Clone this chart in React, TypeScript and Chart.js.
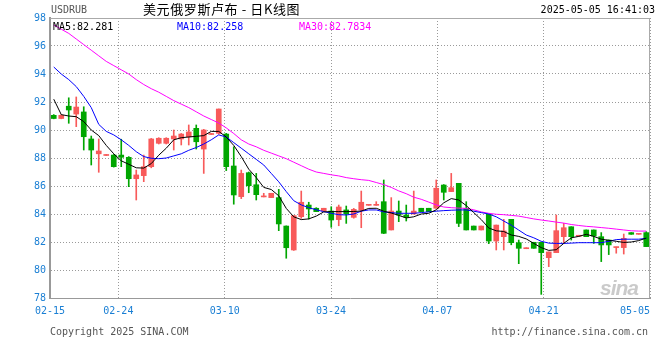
import { useEffect, useRef } from 'react';
import { Chart, registerables } from 'chart.js';

Chart.register(...registerables);

// ---- categories (one slot per day) ----
const DAYS = [
  '02-15','02-16','02-17','02-18','02-19','02-20','02-21','02-22','02-23','02-24','02-25','02-26','02-27','02-28',
  '03-01','03-02','03-03','03-04','03-05','03-06','03-07','03-08','03-09','03-10','03-11','03-12','03-13','03-14',
  '03-15','03-16','03-17','03-18','03-19','03-20','03-21','03-22','03-23','03-24','03-25','03-26','03-27','03-28',
  '03-29','03-30','03-31','04-01','04-02','04-03','04-04','04-05','04-06','04-07','04-08','04-09','04-10','04-11',
  '04-12','04-13','04-14','04-15','04-16','04-17','04-18','04-19','04-20','04-21','04-22','04-23','04-24','04-25',
  '04-26','04-27','04-28','04-29','04-30','05-01','05-02','05-03','05-04','05-05',
];

// ---- tick labels ----
const DATE_TICKS = ['02-15', '02-24', '03-10', '03-24', '04-07', '04-21', '05-05'];
const Y_MIN = 78;
const Y_MAX = 98;
const Y_STEP = 2;

// ---- OHLC ----
const OPEN = [
  91.05, 90.82, 91.7, 91.14, 91.29, 89.36, 88.3, 88.18, 88.21, 88.21,
  88.05, 86.52, 86.74, 87.38, 89.05, 89.05, 89.36, 89.36, 89.52, 90.12,
  88.64, 89.68, 89.76, 89.71, 87.43, 85.24, 86.95, 86.09, 85.22, 85.17,
  85.17, 83.14, 81.43, 83.81, 84.64, 84.41, 84.21, 84.21, 83.6, 84.29,
  83.76, 84.29, 84.62, 84.62, 84.88, 82.86, 84.21, 83.93, 84.0, 84.41,
  84.41, 84.41, 86.07, 85.6, 86.19, 84.41, 83.14, 82.86, 83.98, 82.07,
  82.38, 83.62, 81.95, 81.52, 81.98, 81.98, 80.88, 81.24, 82.38, 83.09,
  82.41, 82.86, 82.86, 82.38, 82.14, 81.6, 81.6, 82.67, 82.55, 82.67,
];
const HIGH = [
  91.1, 91.1, 92.3, 92.36, 91.66, 89.57, 89.36, 88.22, 88.25, 89.34,
  88.1, 87.14, 88.21, 89.4, 89.45, 89.45, 90.0, 89.75, 90.36, 90.36,
  90.05, 89.74, 91.5, 89.76, 88.8, 87.14, 87.0, 86.9, 85.48, 85.48,
  85.76, 83.15, 83.9, 85.64, 84.84, 84.45, 84.41, 84.52, 84.64, 84.57,
  84.4, 85.64, 84.66, 84.88, 86.43, 85.17, 84.93, 84.64, 85.64, 84.41,
  84.41, 86.43, 86.1, 86.9, 86.19, 84.88, 83.14, 83.14, 83.98, 83.21,
  83.62, 83.62, 82.14, 81.58, 81.98, 82.0, 81.29, 83.93, 83.33, 83.09,
  82.45, 82.86, 82.86, 82.67, 82.14, 81.64, 82.57, 82.67, 82.6, 82.74,
];
const LOW = [
  90.8, 90.8, 90.48, 90.24, 88.57, 87.5, 86.98, 88.18, 87.35, 87.38,
  85.95, 85.0, 86.31, 87.3, 89.0, 89.0, 88.57, 88.93, 88.93, 88.64,
  86.9, 89.68, 89.7, 87.1, 84.7, 85.1, 85.52, 85.0, 85.22, 85.17,
  82.81, 80.84, 81.4, 83.69, 83.64, 84.17, 84.21, 83.05, 83.16, 83.33,
  83.7, 83.02, 84.62, 84.62, 82.6, 82.86, 83.45, 83.5, 84.0, 84.17,
  84.17, 84.41, 85.0, 85.6, 83.1, 82.86, 82.86, 82.86, 81.88, 81.43,
  81.43, 81.8, 80.45, 81.52, 81.55, 78.26, 80.24, 81.24, 81.95, 82.14,
  82.41, 82.38, 81.9, 80.6, 81.1, 81.2, 81.14, 82.55, 82.55, 81.67,
];
const CLOSE = [
  90.82, 91.05, 91.43, 91.64, 89.52, 88.57, 88.5, 88.22, 87.38, 88.05,
  86.52, 86.79, 87.38, 89.36, 89.41, 89.41, 89.57, 89.71, 89.86, 89.16,
  90.0, 89.74, 91.5, 87.38, 85.36, 86.9, 86.02, 85.38, 85.27, 85.48,
  83.29, 81.59, 83.88, 84.84, 84.36, 84.17, 84.41, 83.57, 84.5, 84.0,
  84.33, 84.84, 84.66, 84.66, 82.62, 84.21, 83.93, 83.76, 84.21, 84.17,
  84.17, 85.84, 85.55, 85.88, 83.33, 82.86, 82.86, 83.14, 82.07, 83.21,
  82.79, 81.95, 81.55, 81.58, 81.55, 81.24, 81.29, 82.81, 83.02, 82.38,
  82.45, 82.38, 82.43, 81.79, 81.79, 81.64, 82.26, 82.55, 82.6, 81.67,
];

// ---- moving averages ----
const MA5 = [
  92.2, 91.1, 91.0, 90.95, 90.6, 90.0, 89.6, 88.9, 88.3, 87.8,
  87.55, 87.3, 87.28, 87.6, 88.2, 88.7, 89.3, 89.45, 89.5, 89.55,
  89.6, 89.9, 89.9, 89.5, 88.9, 88.1, 87.2, 86.6, 85.9, 85.75,
  85.3, 84.4, 83.8, 83.6, 83.65, 83.85, 84.15, 84.17, 84.17, 84.17,
  84.18, 84.21, 84.4, 84.41, 84.2, 84.07, 83.9, 83.72, 83.8, 84.0,
  84.05, 84.3, 84.8, 85.1, 85.0, 84.6, 84.1, 83.6, 83.0, 82.8,
  82.75, 82.5, 82.4, 82.22, 81.9, 81.6, 81.4, 81.45, 81.9, 82.3,
  82.4, 82.55, 82.4, 82.2, 82.12, 82.05, 81.97, 82.0, 82.1, 82.28,
];
const MA10 = [
  94.5, 94.0, 93.6, 93.1, 92.4, 91.6, 90.4, 89.9, 89.65, 89.3,
  88.9, 88.45, 88.1, 87.98, 87.95, 88.0, 88.15, 88.3, 88.55, 88.75,
  89.0, 89.3, 89.65, 89.5, 89.1, 88.7, 88.3, 87.9, 87.5, 86.9,
  86.3, 85.6, 84.95, 84.65, 84.45, 84.3, 84.17, 84.05, 83.95, 83.93,
  84.0, 84.2, 84.29, 84.29, 84.15, 84.1, 84.05, 84.05, 84.05, 84.1,
  84.15, 84.2, 84.24, 84.27, 84.29, 84.29, 84.2, 84.1, 84.0, 83.8,
  83.5, 83.2, 82.85, 82.5, 82.3, 82.05, 81.92, 81.9, 81.9, 81.92,
  81.95, 81.95, 81.95, 81.95, 82.05, 82.17, 82.2, 82.2, 82.2, 82.26,
];
const MA30 = [
  97.5, 97.2, 96.9, 96.5, 96.1, 95.7, 95.3, 94.9, 94.6, 94.3,
  94.0, 93.6, 93.25, 92.95, 92.7, 92.4, 92.1, 91.85, 91.6, 91.3,
  91.0, 90.75, 90.5, 90.15, 89.75, 89.3, 89.0, 88.8, 88.55, 88.35,
  88.15, 87.95, 87.7, 87.45, 87.2, 87.0, 86.9, 86.8, 86.72, 86.6,
  86.52, 86.45, 86.4, 86.25, 86.1, 85.9, 85.65, 85.45, 85.2, 85.05,
  84.85, 84.65, 84.5, 84.45, 84.42, 84.4, 84.3, 84.15, 84.05, 83.98,
  83.95, 83.9, 83.85, 83.75, 83.65, 83.57, 83.5, 83.42, 83.35, 83.25,
  83.18, 83.12, 83.08, 83.03, 82.98, 82.92, 82.86, 82.8, 82.78, 82.78,
];

const MA_LABELS = ['MA5:82.281', 'MA10:82.258', 'MA30:82.7834'];

const UP = '#f85a5a';
const DOWN = '#00a600';
const BLUE_TXT = '#1a7fd4';
const MONO = '"DejaVu Sans Mono", monospace';

const candleColor = (i: number) => (CLOSE[i] >= OPEN[i] ? UP : DOWN);

const framePlugin = {
  id: 'frame',
  beforeDatasetsDraw(chart: any) {
    const { ctx, chartArea } = chart;
    ctx.save();
    ctx.strokeStyle = '#aaaaaa';
    ctx.lineWidth = 1;
    ctx.beginPath();
    ctx.moveTo(chartArea.left, Math.round(chartArea.top) + 0.5);
    ctx.lineTo(chartArea.right, Math.round(chartArea.top) + 0.5);
    ctx.moveTo(Math.round(chartArea.right) - 0.5, chartArea.top);
    ctx.lineTo(Math.round(chartArea.right) - 0.5, chartArea.bottom);
    ctx.stroke();
    ctx.restore();
  },
};

export default function App() {
  const ref = useRef<HTMLCanvasElement | null>(null);

  useEffect(() => {
    document.body.style.margin = '0';
    const canvas = ref.current;
    if (!canvas) return;
    const tickIdx = DATE_TICKS.map((l) => DAYS.indexOf(l));

    const lineDs = (label: string, data: number[], color: string) =>
      ({
        type: 'line',
        label,
        data,
        borderColor: color,
        borderWidth: 1,
        pointRadius: 0,
        tension: 0,
        fill: false,
        order: 0,
      }) as any;

    const chart = new Chart(canvas, {
      type: 'bar',
      data: {
        labels: DAYS,
        datasets: [
          lineDs('MA5', MA5, '#000000'),
          lineDs('MA10', MA10, '#0000ff'),
          lineDs('MA30', MA30, '#ff00ff'),
          {
            type: 'bar',
            label: 'body',
            data: OPEN.map((o, i) => [o, CLOSE[i]]),
            backgroundColor: (c: any) => candleColor(c.dataIndex),
            barThickness: 5,
            minBarLength: 1,
            grouped: false,
            borderWidth: 0,
            order: 2,
          } as any,
          {
            type: 'bar',
            label: 'wick',
            data: LOW.map((l, i) => [l, HIGH[i]]),
            backgroundColor: (c: any) => candleColor(c.dataIndex),
            barThickness: 1,
            minBarLength: 1,
            grouped: false,
            borderWidth: 0,
            order: 3,
          } as any,
        ],
      },
      options: {
        animation: false,
        responsive: false,
        maintainAspectRatio: false,
        layout: { padding: { left: 34, right: 10, top: 18, bottom: 43 } },
        plugins: { legend: { display: false }, tooltip: { enabled: false } },
        scales: {
          x: {
            type: 'category',
            display: false,
            offset: true,
            grid: { display: false },
          },
          x2: {
            type: 'linear',
            position: 'bottom',
            min: 0,
            max: DAYS.length - 1,
            offset: false,
            afterBuildTicks: (scale: any) => {
              scale.ticks = [{ value: tickIdx[0] }, ...tickIdx.map((v) => ({ value: v }))];
            },
            afterFit: (scale: any) => {
              scale.height = 19;
            },
            grid: { color: '#9a9a9a', drawTicks: false, lineWidth: 1, offset: false },
            border: { display: true, color: '#999999', width: 1, dash: [1, 2] },
            ticks: {
              autoSkip: false,
              maxRotation: 0,
              align: 'inner',
              padding: 7,
              color: BLUE_TXT,
              font: { family: MONO, size: 10 },
              callback: (v: any, i: number) => (i === 0 ? '' : DAYS[Math.round(Number(v))]),
            },
          } as any,
          y: {
            min: Y_MIN,
            max: Y_MAX,
            afterFit: (scale: any) => {
              scale.width = 16;
            },
            ticks: {
              stepSize: Y_STEP,
              color: BLUE_TXT,
              padding: 4,
              font: { family: MONO, size: 10 },
            },
            grid: { color: '#9a9a9a', drawTicks: false, lineWidth: 1 },
            border: { display: true, color: '#999999', width: 2, dash: [1, 2] },
          } as any,
        },
      } as any,
      plugins: [framePlugin],
    });
    return () => chart.destroy();
  }, []);

  const txt = (extra: any) => ({
    position: 'absolute' as const,
    fontFamily: MONO,
    fontSize: 10,
    lineHeight: '12px',
    whiteSpace: 'nowrap' as const,
    ...extra,
  });

  return (
    <div style={{ position: 'relative', width: 660, height: 360, background: '#fff' }}>
      <canvas ref={ref} width={660} height={360} style={{ width: 660, height: 360, display: 'block' }} />
      <div style={txt({ left: 51, top: 4, color: '#555' })}>USDRUB</div>
      <div
        style={txt({
          left: 143,
          top: 1,
          color: '#000',
          fontFamily: '"Noto Sans CJK SC", sans-serif',
          fontSize: 13,
          lineHeight: '16px',
          letterSpacing: 0.6,
        })}
      >
        美元俄罗斯卢布 - 日K线图
      </div>
      <div style={txt({ right: 5, top: 4, color: '#000' })}>2025-05-05 16:41:03</div>
      <div style={txt({ left: 53, top: 21, color: '#000' })}>{MA_LABELS[0]}</div>
      <div style={txt({ left: 177, top: 21, color: '#0000ff' })}>{MA_LABELS[1]}</div>
      <div style={txt({ left: 299, top: 21, color: '#ff00ff' })}>{MA_LABELS[2]}</div>
      <div style={txt({ left: 50, top: 326, color: '#555' })}>Copyright 2025 SINA.COM</div>
      <div style={txt({ right: 12, top: 326, color: '#555' })}>http://finance.sina.com.cn</div>
      <div
        style={{
          position: 'absolute',
          left: 600,
          top: 276,
          fontFamily: 'Arial, "Liberation Sans", sans-serif',
          fontStyle: 'italic',
          fontWeight: 'bold',
          fontSize: 21,
          color: 'rgba(150,150,150,0.5)',
          letterSpacing: -1,
        }}
      >
        sina
      </div>
    </div>
  );
}
